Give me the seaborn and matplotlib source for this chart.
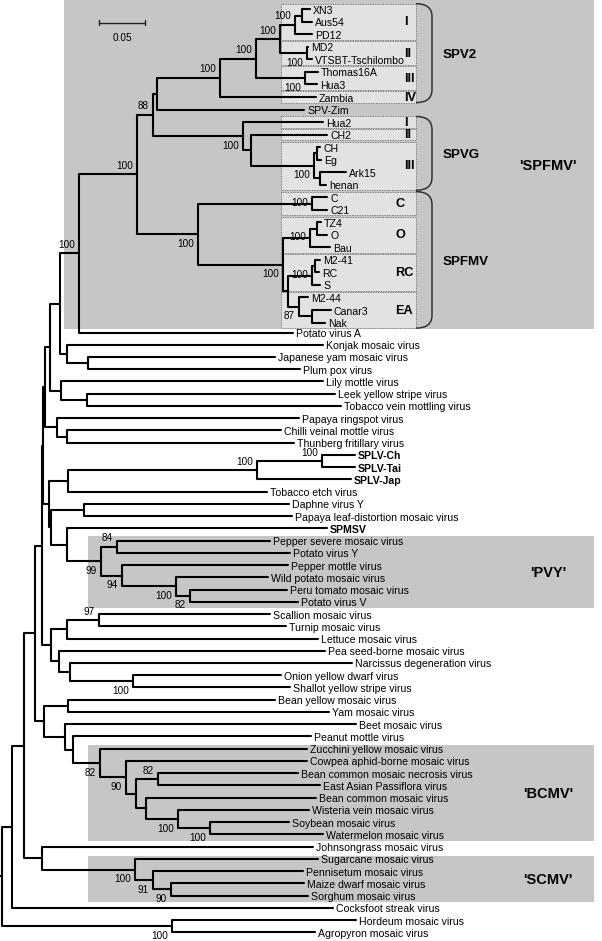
import numpy as np
import pandas as pd
import matplotlib
matplotlib.use("Agg")
import matplotlib.pyplot as plt
from matplotlib.patches import Rectangle, PathPatch
from matplotlib.path import Path
import seaborn as sns

# ---------------- data ----------------
LEAVES = [
    "XN3", "Aus54", "PD12", "MD2", "VTSBT-Tschilombo", "Thomas16A", "Hua3", "Zambia",
    "SPV-Zim", "Hua2", "CH2", "CH", "Eg", "Ark15", "henan", "C", "C21", "TZ4", "O", "Bau",
    "M2-41", "RC", "S", "M2-44", "Canar3", "Nak",
    "Potato virus A", "Konjak mosaic virus", "Japanese yam mosaic virus", "Plum pox virus",
    "Lily mottle virus", "Leek yellow stripe virus", "Tobacco vein mottling virus",
    "Papaya ringspot virus", "Chilli veinal mottle virus", "Thunberg fritillary virus",
    "SPLV-Ch", "SPLV-Tai", "SPLV-Jap", "Tobacco etch virus", "Daphne virus Y",
    "Papaya leaf-distortion mosaic virus", "SPMSV", "Pepper severe mosaic virus",
    "Potato virus Y", "Pepper mottle virus", "Wild potato mosaic virus",
    "Peru tomato mosaic virus", "Potato virus V", "Scallion mosaic virus",
    "Turnip mosaic virus", "Lettuce mosaic virus", "Pea seed-borne mosaic virus",
    "Narcissus degeneration virus", "Onion yellow dwarf virus", "Shallot yellow stripe virus",
    "Bean yellow mosaic virus", "Yam mosaic virus", "Beet mosaic virus", "Peanut mottle virus",
    "Zucchini yellow mosaic virus", "Cowpea aphid-borne mosaic virus",
    "Bean common mosaic necrosis virus", "East Asian Passiflora virus",
    "Bean common mosaic virus", "Wisteria vein mosaic virus", "Soybean mosaic virus",
    "Watermelon mosaic virus", "Johnsongrass mosaic virus", "Sugarcane mosaic virus",
    "Pennisetum mosaic virus", "Maize dwarf mosaic virus", "Sorghum mosaic virus",
    "Cocksfoot streak virus", "Hordeum mosaic virus", "Agropyron mosaic virus",
]

# distance of each tip from the root (substitutions per site)
LEAF_DIST = [
    0.3348, 0.3370, 0.3370, 0.3326, 0.3370, 0.3435, 0.3424, 0.3413,
    0.3283, 0.3489, 0.3533, 0.3457, 0.3467, 0.3739, 0.3522, 0.3533, 0.3533, 0.3467, 0.3533, 0.3565,
    0.3457, 0.3446, 0.3457, 0.3326, 0.3576, 0.3511,
    0.3163, 0.3489, 0.2967, 0.3239,
    0.3489, 0.3620, 0.3685,
    0.3228, 0.3033, 0.3174,
    0.3837, 0.3837, 0.3794, 0.2880, 0.3120,
    0.3152, 0.3533, 0.2913,
    0.3130, 0.3109, 0.2891,
    0.3098, 0.3217, 0.2913,
    0.3087, 0.3435, 0.3511,
    0.3804, 0.3033, 0.3130,
    0.2967, 0.3554, 0.3848, 0.3359,
    0.3315, 0.3315,
    0.3217, 0.3457,
    0.3413, 0.3337, 0.3120,
    0.3489, 0.3380, 0.3435,
    0.3272, 0.3283, 0.3326,
    0.3598, 0.3848, 0.3402,
]

BOLD_LEAVES = ["SPLV-Ch", "SPLV-Tai", "SPLV-Jap", "SPMSV"]

NODE_CHILDREN = {
    "n_root": ["n_A", "n_HA"],
    "n_HA": ["Hordeum mosaic virus", "Agropyron mosaic virus"],
    "n_A": ["n_B", "Cocksfoot streak virus"],
    "n_B": ["n_C", "n_JS"],
    "n_JS": ["Johnsongrass mosaic virus", "n_SCMV"],
    "n_SCMV": ["Sugarcane mosaic virus", "n_91"],
    "n_91": ["Pennisetum mosaic virus", "n_90s"],
    "n_90s": ["Maize dwarf mosaic virus", "Sorghum mosaic virus"],
    "n_C": ["n_E", "n_D"],
    "n_D": ["n_BY", "n_D2"],
    "n_BY": ["Bean yellow mosaic virus", "Yam mosaic virus"],
    "n_D2": ["Beet mosaic virus", "n_D3"],
    "n_D3": ["Peanut mottle virus", "n_BCMV"],
    "n_BCMV": ["Zucchini yellow mosaic virus", "n_B90"],
    "n_B90": ["Cowpea aphid-borne mosaic virus", "n_B2"],
    "n_B2": ["n_B82", "n_B3"],
    "n_B82": ["Bean common mosaic necrosis virus", "East Asian Passiflora virus"],
    "n_B3": ["Bean common mosaic virus", "n_B100a"],
    "n_B100a": ["Wisteria vein mosaic virus", "n_B100b"],
    "n_B100b": ["Soybean mosaic virus", "Watermelon mosaic virus"],
    "n_E": ["n_M", "n_F"],
    "n_F": ["n_F1", "n_G"],
    "n_F1": ["n_ST", "Lettuce mosaic virus"],
    "n_ST": ["Scallion mosaic virus", "Turnip mosaic virus"],
    "n_G": ["Pea seed-borne mosaic virus", "n_H"],
    "n_H": ["Narcissus degeneration virus", "n_OS"],
    "n_OS": ["Onion yellow dwarf virus", "Shallot yellow stripe virus"],
    "n_M": ["n_L", "n_Q"],
    "n_L": ["n_K", "n_PR"],
    "n_K": ["n_I", "n_J"],
    "n_I": ["n_R", "n_KJ"],
    "n_R": ["n_S", "Potato virus A"],
    "n_KJ": ["Konjak mosaic virus", "n_JP"],
    "n_JP": ["Japanese yam mosaic virus", "Plum pox virus"],
    "n_J": ["Lily mottle virus", "n_LT"],
    "n_LT": ["Leek yellow stripe virus", "Tobacco vein mottling virus"],
    "n_PR": ["Papaya ringspot virus", "n_CT"],
    "n_CT": ["Chilli veinal mottle virus", "Thunberg fritillary virus"],
    "n_Q": ["n_ST2", "n_P"],
    "n_ST2": ["n_SPLV", "Tobacco etch virus"],
    "n_SPLV": ["n_SPLVct", "SPLV-Jap"],
    "n_SPLVct": ["SPLV-Ch", "SPLV-Tai"],
    "n_P": ["n_DP", "n_SP"],
    "n_DP": ["Daphne virus Y", "Papaya leaf-distortion mosaic virus"],
    "n_SP": ["SPMSV", "n_PVY"],
    "n_PVY": ["n_PV84", "n_PV94"],
    "n_PV84": ["Pepper severe mosaic virus", "Potato virus Y"],
    "n_PV94": ["Pepper mottle virus", "n_PV100"],
    "n_PV100": ["Wild potato mosaic virus", "n_PV82"],
    "n_PV82": ["Peru tomato mosaic virus", "Potato virus V"],
    "n_S": ["n_T", "n_SPF"],
    "n_T": ["n_U", "n_SPVG"],
    "n_U": ["n_SPV2", "SPV-Zim"],
    "n_SPV2": ["n_V", "Zambia"],
    "n_V": ["n_W", "n_III"],
    "n_W": ["n_G1", "n_MV"],
    "n_G1": ["n_XA", "PD12"],
    "n_XA": ["XN3", "Aus54"],
    "n_MV": ["MD2", "VTSBT-Tschilombo"],
    "n_III": ["Thomas16A", "Hua3"],
    "n_SPVG": ["Hua2", "n_Y"],
    "n_Y": ["CH2", "n_Z"],
    "n_Z": ["n_ZA", "n_ZB"],
    "n_ZA": ["CH", "Eg"],
    "n_ZB": ["Ark15", "henan"],
    "n_SPF": ["n_CC", "n_ORE"],
    "n_CC": ["C", "C21"],
    "n_ORE": ["n_ON", "n_RE"],
    "n_ON": ["n_TO", "Bau"],
    "n_TO": ["TZ4", "O"],
    "n_RE": ["n_RCN", "n_EA"],
    "n_RCN": ["n_MR", "S"],
    "n_MR": ["M2-41", "RC"],
    "n_EA": ["M2-44", "n_CN"],
    "n_CN": ["Canar3", "Nak"],
}

NODE_DIST = {
    "n_root": 0.0, "n_A": 0.0109, "n_B": 0.0239, "n_C": 0.0359, "n_D": 0.0457,
    "n_BY": 0.0717, "n_D2": 0.0685, "n_D3": 0.0772, "n_BCMV": 0.1065, "n_B90": 0.1348,
    "n_B2": 0.1457, "n_B82": 0.1696, "n_B3": 0.1565, "n_B100a": 0.1913, "n_B100b": 0.2261,
    "n_JS": 0.0435, "n_SCMV": 0.1446, "n_91": 0.1641, "n_90s": 0.1837, "n_HA": 0.1848,
    "n_E": 0.0435, "n_M": 0.0446, "n_L": 0.0467, "n_K": 0.0522, "n_I": 0.0630,
    "n_R": 0.0837, "n_KJ": 0.0707, "n_JP": 0.0935, "n_J": 0.0641, "n_LT": 0.0924,
    "n_PR": 0.0598, "n_CT": 0.0707, "n_Q": 0.0511, "n_ST2": 0.0717, "n_SPLV": 0.2772,
    "n_SPLVct": 0.3478, "n_P": 0.0533, "n_DP": 0.0891, "n_SP": 0.0707, "n_PVY": 0.1076,
    "n_PV84": 0.1250, "n_PV94": 0.1304, "n_PV100": 0.1891, "n_PV82": 0.2043,
    "n_F": 0.0533, "n_F1": 0.0707, "n_ST": 0.1054, "n_G": 0.0620, "n_H": 0.0739,
    "n_OS": 0.1424, "n_S": 0.1467, "n_T": 0.1641, "n_U": 0.1685, "n_SPV2": 0.2370,
    "n_V": 0.2761, "n_W": 0.3022, "n_G1": 0.3185, "n_XA": 0.3261, "n_MV": 0.3315,
    "n_III": 0.3294, "n_SPVG": 0.2620, "n_Y": 0.2707, "n_Z": 0.3391, "n_ZA": 0.3424,
    "n_ZB": 0.3457, "n_SPF": 0.2130, "n_CC": 0.3370, "n_ORE": 0.3054, "n_ON": 0.3348,
    "n_TO": 0.3424, "n_RE": 0.3109, "n_RCN": 0.3370, "n_MR": 0.3402, "n_EA": 0.3228,
    "n_CN": 0.3370,
}

SUPPORT = {
    "n_R": 100, "n_S": 100, "n_T": 88, "n_SPV2": 100, "n_V": 100, "n_W": 100, "n_G1": 100,
    "n_MV": 100, "n_III": 100, "n_SPVG": 100, "n_Z": 100, "n_SPF": 100, "n_CC": 100,
    "n_ON": 100, "n_ORE": 100, "n_RCN": 100, "n_EA": 87, "n_SPLV": 100, "n_SPLVct": 100,
    "n_PVY": 99, "n_PV84": 84, "n_PV94": 94, "n_PV100": 100, "n_PV82": 82, "n_ST": 97,
    "n_OS": 100, "n_BCMV": 82, "n_B90": 90, "n_B82": 82, "n_B100a": 100, "n_B100b": 100,
    "n_SCMV": 100, "n_91": 91, "n_90s": 90, "n_HA": 100,
}

# ---------------- layout / style ----------------
SUPPORT_SIDE = {  # a = above branch, b = below, c = on branch
    "n_R": "a", "n_S": "a", "n_T": "a", "n_SPV2": "a", "n_V": "a", "n_W": "a", "n_G1": "a",
    "n_MV": "b", "n_III": "b", "n_SPVG": "b", "n_Z": "b", "n_SPF": "b", "n_CC": "c",
    "n_ON": "c", "n_ORE": "b", "n_RCN": "c", "n_EA": "b", "n_SPLV": "a", "n_SPLVct": "a",
    "n_PVY": "b", "n_PV84": "a", "n_PV94": "b", "n_PV100": "b", "n_PV82": "b", "n_ST": "a",
    "n_OS": "b", "n_BCMV": "b", "n_B90": "b", "n_B82": "a", "n_B100a": "b", "n_B100b": "b",
    "n_SCMV": "b", "n_91": "b", "n_90s": "b", "n_HA": "b",
}

ROOT_PX = 2.0
PX_PER_UNIT = 920.0
W_PX, H_PX = 602, 941
LABEL_FS = 7.6
SUP_FS = 7.2
LW = 1.5
DARK_BOX = "#c6c6c6"
LIGHT_BOX = "#e2e2e2"


def leaf_y(i):
    return 9.3 + 12.53 * i if i <= 25 else 332.5 + (i - 26) * 12.24


sns.set_theme(style="white")
plt.rcParams["font.family"] = ["Liberation Sans", "DejaVu Sans"]
plt.rcParams["text.color"] = "black"

# positions
pos = {}
for i, (name, d) in enumerate(zip(LEAVES, LEAF_DIST)):
    pos[name] = (ROOT_PX + d * PX_PER_UNIT, leaf_y(i))


def place(node):
    if node in pos:
        return pos[node]
    ys = [place(c)[1] for c in NODE_CHILDREN[node]]
    pos[node] = (ROOT_PX + NODE_DIST[node] * PX_PER_UNIT, (ys[0] + ys[-1]) / 2.0)
    return pos[node]


place("n_root")

rows = []
seg = 0
for node, kids in NODE_CHILDREN.items():
    nx, ny = pos[node]
    for k in kids:
        kx, ky = pos[k]
        rows += [(seg, nx, ny), (seg, nx, ky), (seg, kx, ky)]
        seg += 1
rx, ry = pos["n_root"]
rows += [(seg, 0.0, ry), (seg, rx, ry)]
seg_df = pd.DataFrame(rows, columns=["seg", "x", "y"])

fig = plt.figure(figsize=(W_PX / 100, H_PX / 100), dpi=100)
ax = fig.add_axes([0, 0, 1, 1])

# shaded group boxes
GRAY_BOXES = [
    ("XN3", "Nak", 64, 9.3, "'SPFMV'"),
    ("Pepper severe mosaic virus", "Potato virus V", 88, 4.5, "'PVY'"),
    ("Zucchini yellow mosaic virus", "Watermelon mosaic virus", 88, 4.0, "'BCMV'"),
    ("Sugarcane mosaic virus", "Sorghum mosaic virus", 88, 3.0, "'SCMV'"),
]
BOX_RIGHT = 594
for first, last, left, ptop, lab in GRAY_BOXES:
    y0 = pos[first][1] - ptop
    y1 = pos[last][1] + 6.5
    ax.add_patch(Rectangle((left, y0), BOX_RIGHT - left, y1 - y0, fc=DARK_BOX, ec="none", zorder=0))
    ax.text(548, (y0 + y1) / 2 + 1, lab, ha="center", va="center", fontsize=10.5,
            fontweight="bold", color="black", zorder=5)

INNER = [
    ("XN3", "PD12", "I", 404), ("MD2", "VTSBT-Tschilombo", "II", 404),
    ("Thomas16A", "Hua3", "III", 404), ("Zambia", "Zambia", "IV", 404),
    ("Hua2", "Hua2", "I", 404), ("CH2", "CH2", "II", 404), ("CH", "henan", "III", 404),
    ("C", "C21", "C", 395), ("TZ4", "Bau", "O", 395), ("M2-41", "S", "RC", 395),
    ("M2-44", "Nak", "EA", 395),
]
IN_L, IN_R = 281, 416
for first, last, lab, lx in INNER:
    y0 = pos[first][1] - 5.6
    y1 = pos[last][1] + 5.6
    ax.add_patch(Rectangle((IN_L, y0), IN_R - IN_L, y1 - y0, fc=LIGHT_BOX, ec="#6a6a6a",
                           lw=0.6, ls=(0, (1, 1)), zorder=1))
    ax.text(lx, (y0 + y1) / 2 + 0.5, lab, ha="left", va="center", fontsize=9.2,
            fontweight="bold", color="black", zorder=5)

BRACKETS = [("XN3", "Zambia", "SPV2"), ("Hua2", "henan", "SPVG"), ("C", "Nak", "SPFMV")]
for first, last, lab in BRACKETS:
    top = pos[first][1] - 5.6
    bot = pos[last][1] + 5.6
    x0, x1, r = IN_R, IN_R + 16, 13
    verts = [(x0, top), (x1, top), (x1, top + r), (x1, bot - r), (x1, bot), (x0, bot)]
    codes = [Path.MOVETO, Path.CURVE3, Path.CURVE3, Path.LINETO, Path.CURVE3, Path.CURVE3]
    ax.add_patch(PathPatch(Path(verts, codes), fill=False, ec="#333333", lw=1.1, zorder=3))
    ax.text(443, (top + bot) / 2 + 2, lab, ha="left", va="center", fontsize=9.6,
            fontweight="bold", color="black", zorder=5)

# tree branches
sns.lineplot(data=seg_df, x="x", y="y", units="seg", estimator=None, sort=False,
             color="black", lw=LW, ax=ax, legend=False, zorder=4)

# tip labels
for name in LEAVES:
    x, y = pos[name]
    ax.text(x + 3, y + 1.5, name, ha="left", va="center", fontsize=LABEL_FS, color="black",
            fontweight="bold" if name in BOLD_LEAVES else "normal", zorder=5)

# support values
for node, val in SUPPORT.items():
    x, y = pos[node]
    side = SUPPORT_SIDE[node]
    dy = {"a": -8.5, "b": 9.5, "c": -1.0}[side]
    ax.text(x - 4, y + dy, str(val), ha="right", va="center", fontsize=SUP_FS,
            color="black", zorder=5)

# scale bar
SCALE = 0.05
sb_x, sb_y = 99.3, 22.7
sb_len = SCALE * PX_PER_UNIT
ax.plot([sb_x, sb_x + sb_len], [sb_y, sb_y], color="#222222", lw=1.0, zorder=5)
for xx in (sb_x, sb_x + sb_len):
    ax.plot([xx, xx], [sb_y - 2.5, sb_y + 2.5], color="#222222", lw=1.0, zorder=5)
ax.text(sb_x + sb_len / 2, sb_y + 15, f"{SCALE:.2f}", ha="center", va="center",
        fontsize=SUP_FS, color="black", zorder=5)

ax.set_xlim(0, W_PX)
ax.set_ylim(H_PX, 0)
ax.set_axis_off()
fig.savefig("out.png", dpi=100)
